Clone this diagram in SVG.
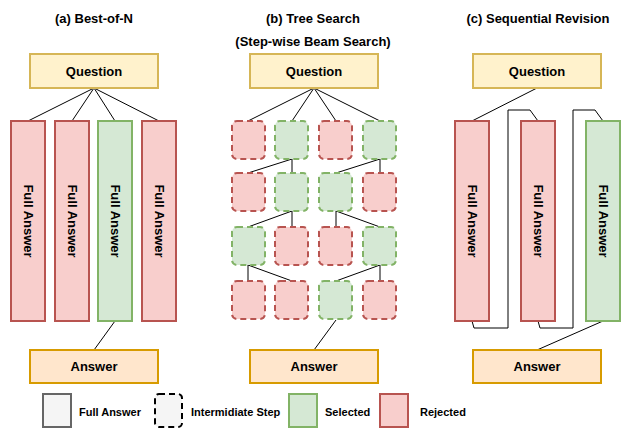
<svg xmlns="http://www.w3.org/2000/svg" width="625" height="430" viewBox="0 0 625 430">
<style>
text{font-family:"Liberation Sans",Arial,sans-serif;font-weight:bold;fill:#000;text-anchor:middle}
.t{font-size:13px}
.l{font-size:11px;text-anchor:start}
.q{fill:#fff2cc;stroke:#d6b656;stroke-width:2}
.a{fill:#ffe6cc;stroke:#d79b00;stroke-width:2}
.r{fill:#f8cecc;stroke:#b85450;stroke-width:2}
.g{fill:#d5e8d4;stroke:#82b366;stroke-width:2}
.d{stroke-dasharray:6 4}
.c{fill:none;stroke:#000;stroke-width:1}
</style>
<rect width="625" height="430" fill="#fff"/>
<g id="titles">
<text class="t" x="94" y="23">(a) Best-of-N</text>
<text class="t" x="313" y="23">(b) Tree Search</text>
<text class="t" x="313" y="46">(Step-wise Beam Search)</text>
<text class="t" x="538" y="23">(c) Sequential Revision</text>
</g>
<g id="connectors">
<path class="c" d="M94 88L28 121M94 88L72 121M94 88L115 121M94 88L159 121M115 321L94 350"/>
<path class="c" d="M314 88L248 121M314 88L292 121M314 88L336 121M314 88L380 121"/>
<path class="c" d="M292 159L292 173M292 159L248 173M380 159L380 173M380 159L336 173"/>
<path class="c" d="M292 211L292 227M292 211L248 227M336 211L336 227M336 211L380 227"/>
<path class="c" d="M248 265L248 281M248 265L292 281M380 265L380 281M380 265L336 281"/>
<path class="c" d="M336 320L314 350"/>
<path class="c" d="M537 88L472 121"/>
<path class="c" d="M472 321L474 328L508 328L508 110L530 110L538 121"/>
<path class="c" d="M538 321L540 328L573 328L573 110L595 110L603 121"/>
<path class="c" d="M603 321L537 350"/>
</g>
<g id="a-question"><rect class="q" x="30" y="54" width="128" height="34"/><text class="t" x="94" y="75.5">Question</text></g>
<g id="a-full1"><rect class="r" x="11" y="121" width="34" height="200"/><text class="t" transform="translate(28 221) rotate(90)" y="4.5">Full Answer</text></g>
<g id="a-full2"><rect class="r" x="55" y="121" width="34" height="200"/><text class="t" transform="translate(72 221) rotate(90)" y="4.5">Full Answer</text></g>
<g id="a-full3"><rect class="g" x="98" y="121" width="34" height="200"/><text class="t" transform="translate(115 221) rotate(90)" y="4.5">Full Answer</text></g>
<g id="a-full4"><rect class="r" x="142" y="121" width="34" height="200"/><text class="t" transform="translate(159 221) rotate(90)" y="4.5">Full Answer</text></g>
<g id="a-answer"><rect class="a" x="30" y="350" width="128" height="33"/><text class="t" x="94" y="371">Answer</text></g>
<g id="b-question"><rect class="q" x="250" y="54" width="128" height="34"/><text class="t" x="314" y="75.5">Question</text></g>
<g id="b-steps">
<rect class="r d" x="232" y="121" width="33" height="38" rx="5"/>
<rect class="g d" x="275" y="121" width="33" height="38" rx="5"/>
<rect class="r d" x="319" y="121" width="33" height="38" rx="5"/>
<rect class="g d" x="363" y="121" width="33" height="38" rx="5"/>
<rect class="r d" x="232" y="173" width="33" height="38" rx="5"/>
<rect class="g d" x="275" y="173" width="33" height="38" rx="5"/>
<rect class="g d" x="319" y="173" width="33" height="38" rx="5"/>
<rect class="r d" x="363" y="173" width="33" height="38" rx="5"/>
<rect class="g d" x="232" y="227" width="33" height="38" rx="5"/>
<rect class="r d" x="275" y="227" width="33" height="38" rx="5"/>
<rect class="r d" x="319" y="227" width="33" height="38" rx="5"/>
<rect class="g d" x="363" y="227" width="33" height="38" rx="5"/>
<rect class="r d" x="232" y="281" width="33" height="38" rx="5"/>
<rect class="r d" x="275" y="281" width="33" height="38" rx="5"/>
<rect class="g d" x="319" y="281" width="33" height="38" rx="5"/>
<rect class="r d" x="363" y="281" width="33" height="38" rx="5"/>
</g>
<g id="b-answer"><rect class="a" x="250" y="350" width="128" height="33"/><text class="t" x="314" y="371">Answer</text></g>
<g id="c-question"><rect class="q" x="473" y="54" width="128" height="34"/><text class="t" x="537" y="75.5">Question</text></g>
<g id="c-full1"><rect class="r" x="455" y="121" width="34" height="200"/><text class="t" transform="translate(472 221) rotate(90)" y="4.5">Full Answer</text></g>
<g id="c-full2"><rect class="r" x="521" y="121" width="34" height="200"/><text class="t" transform="translate(538 221) rotate(90)" y="4.5">Full Answer</text></g>
<g id="c-full3"><rect class="g" x="586" y="121" width="34" height="200"/><text class="t" transform="translate(603 221) rotate(90)" y="4.5">Full Answer</text></g>
<g id="c-answer"><rect class="a" x="473" y="350" width="128" height="33"/><text class="t" x="537" y="371">Answer</text></g>
<g id="legend">
<rect x="43" y="394" width="28" height="33" fill="#f5f5f5" stroke="#666666" stroke-width="2"/>
<text class="l" x="79" y="416">Full Answer</text>
<rect x="155" y="394" width="27" height="33" rx="4" fill="#f5f5f5" stroke="#000" stroke-width="2" stroke-dasharray="6 4"/>
<text class="l" x="191" y="416">Intermidiate Step</text>
<rect x="289" y="394" width="28" height="33" fill="#d5e8d4" stroke="#82b366" stroke-width="2"/>
<text class="l" x="325" y="416">Selected</text>
<rect x="380" y="394" width="28" height="33" fill="#f8cecc" stroke="#b85450" stroke-width="2"/>
<text class="l" x="420" y="416">Rejected</text>
</g>
</svg>
